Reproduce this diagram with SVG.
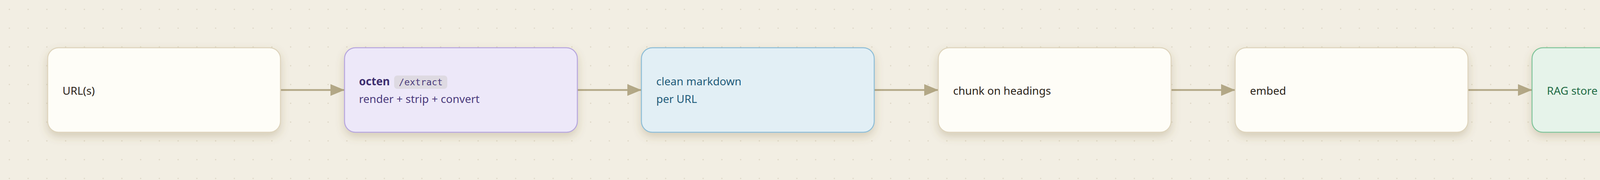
<svg xmlns="http://www.w3.org/2000/svg" width="4640" height="460" viewBox="0 0 4640 460">
<defs>
  <pattern id="dots" width="48" height="48" patternUnits="userSpaceOnUse">
    <circle cx="24" cy="24" r="1.7" fill="#ddd6c5"/>
  </pattern>
  <filter id="shadow" x="-10%" y="-30%" width="120%" height="180%">
    <feDropShadow dx="0" dy="10" stdDeviation="11" flood-color="#7d6638" flood-opacity="0.24"/>
  </filter>
  <marker id="arrow" markerUnits="userSpaceOnUse" markerWidth="36" markerHeight="30" refX="36" refY="15" orient="auto">
    <path d="M0,0 L36,15 L0,30 z" fill="#b3a887"/>
  </marker>
</defs>
<style>
  .box { stroke-width: 2.5; }
  .plain { fill: #fefdf7; stroke: #ddd3bb; }
  .purple { fill: #ede8f9; stroke: #b6a5dd; }
  .blue { fill: #e2eff5; stroke: #8dbdd6; }
  .green { fill: #e6f3ea; stroke: #80c49a; }
  .lbl { font-family: "Noto Sans", "Open Sans", sans-serif; font-size: 28px; }
  .dark { fill: #2a2318; }
  .ptxt { fill: #4a3a7c; }
  .btxt { fill: #1f5b79; }
  .gtxt { fill: #236c46; }
  .bold { font-weight: 700; fill: #3e2f70; }
  .mono { font-family: "DejaVu Sans Mono", "Liberation Mono", monospace; font-size: 23.3px; fill: #4a3a7c; }
  .conn { stroke: #b3a887; stroke-width: 4.5; fill: none; marker-end: url(#arrow); }
</style>
<rect width="4640" height="460" fill="#f2eee3"/>
<rect width="4640" height="460" fill="url(#dots)"/>

<g id="connectors">
  <line class="conn" x1="719" y1="230" x2="882" y2="230"/>
  <line class="conn" x1="1479" y1="230" x2="1642" y2="230"/>
  <line class="conn" x1="2239" y1="230" x2="2402" y2="230"/>
  <line class="conn" x1="2999" y1="230" x2="3162" y2="230"/>
  <line class="conn" x1="3759" y1="230" x2="3922" y2="230"/>
</g>

<g id="node-urls">
  <rect class="box plain" x="122" y="122" width="596" height="216" rx="28" filter="url(#shadow)"/>
  <text class="lbl dark" x="160" y="242">URL(s)</text>
</g>

<g id="node-octen">
  <rect class="box purple" x="882" y="122" width="596" height="216" rx="28" filter="url(#shadow)"/>
  <text class="lbl bold" x="919" y="218">octen</text>
  <rect x="1009" y="193" width="136" height="34" rx="8" fill="#dedae2"/>
  <text class="mono" x="1021" y="218">/extract</text>
  <text class="lbl ptxt" x="919" y="263">render + strip + convert</text>
</g>

<g id="node-markdown">
  <rect class="box blue" x="1642" y="122" width="596" height="216" rx="28" filter="url(#shadow)"/>
  <text class="lbl btxt" x="1680" y="218">clean markdown</text>
  <text class="lbl btxt" x="1680" y="263">per URL</text>
</g>

<g id="node-chunk">
  <rect class="box plain" x="2402" y="122" width="596" height="216" rx="28" filter="url(#shadow)"/>
  <text class="lbl dark" x="2440" y="242">chunk on headings</text>
</g>

<g id="node-embed">
  <rect class="box plain" x="3162" y="122" width="596" height="216" rx="28" filter="url(#shadow)"/>
  <text class="lbl dark" x="3200" y="242">embed</text>
</g>

<g id="node-rag">
  <rect class="box green" x="3922" y="122" width="596" height="216" rx="28" filter="url(#shadow)"/>
  <text class="lbl gtxt" x="3960" y="242">RAG store</text>
</g>
</svg>
